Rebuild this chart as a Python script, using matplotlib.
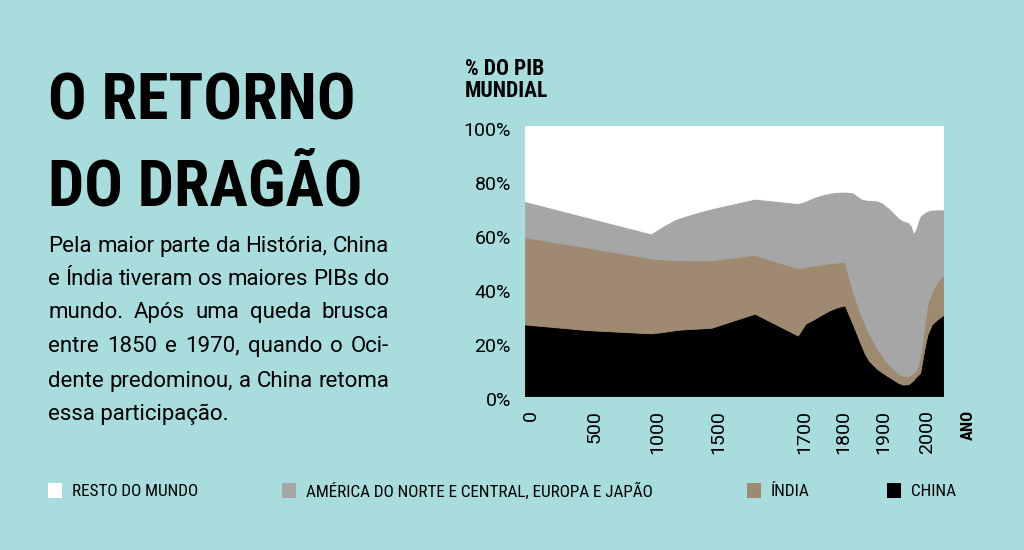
import numpy as np
import matplotlib
matplotlib.use("Agg")
import matplotlib.pyplot as plt
from matplotlib.patches import Rectangle
from matplotlib.transforms import ScaledTranslation

# ---------------- data ----------------
years = [0, 500, 1000, 1100, 1200, 1300, 1400, 1500, 1600, 1700, 1720, 1740,
         1760, 1780, 1800, 1820, 1840, 1860, 1870, 1880, 1900, 1913, 1930,
         1950, 1960, 1973, 1980, 1985, 1990, 1995, 2000, 2003, 2006, 2010,
         2015, 2020]
china = [26.5, 24.4, 23.2, 23.7, 24.4, 24.8, 25.0, 25.3, 30.5, 22.4, 26.8, 28.3,
         30.0, 31.6, 32.8, 33.6, 26.5, 19.0, 15.5, 13.0, 10.0, 8.5, 6.8,
         4.8, 4.2, 4.4, 5.3, 6.0, 7.0, 7.8, 8.6, 16.0, 22.5, 26.5,
         28.5, 30.0]
india = [32.3, 30.6, 27.8, 26.9, 26.0, 25.5, 25.2, 25.0, 21.8, 24.9, 21.0, 20.0,
         18.7, 17.5, 16.6, 16.1, 12.0, 11.0, 11.0, 10.0, 7.5, 6.0, 4.2,
         3.4, 3.3, 3.1, 2.7, 2.6, 2.5, 3.7, 6.4, 8.0, 11.5, 12.0,
         14.0, 14.8]
west = [13.4, 11.2, 9.2, 12.4, 15.1, 16.7, 18.1, 19.2, 20.8, 24.1, 24.5, 25.3,
        25.8, 26.1, 26.2, 26.0, 36.9, 43.2, 46.3, 49.6, 54.9, 57.0, 58.3,
        57.8, 57.5, 56.8, 55.0, 51.9, 52.8, 53.5, 51.8, 43.8, 34.6, 30.5,
        26.6, 24.3]
rest = [100 - c - i - w for c, i, w in zip(china, india, west)]

series_labels = ["CHINA", "ÍNDIA", "AMÉRICA DO NORTE E CENTRAL, EUROPA E JAPÃO",
                 "RESTO DO MUNDO"]
series_colors = ["#000000", "#9E8A70", "#A6A6A6", "#FFFFFF"]

xtick_years = [0, 500, 1000, 1500, 1700, 1800, 1900, 2000]
ytick_vals = [0, 20, 40, 60, 80, 100]
ytick_labels = ["0%", "20%", "40%", "60%", "80%", "100%"]

title_lines = ["O RETORNO", "DO DRAGÃO"]
body_lines = ["Pela maior parte da História, China",
              "e Índia tiveram os maiores PIBs do",
              "mundo. Após uma queda brusca",
              "entre 1850 e 1970, quando o Oci-",
              "dente predominou, a China retoma",
              "essa participação."]

# ---------------- style ----------------
BG = "#A8DCDD"
W, H = 1024, 550
COND = ["Roboto Condensed", "DejaVu Sans"]
BODY = ["Roboto", "DejaVu Sans"]

fig = plt.figure(figsize=(W / 100, H / 100), dpi=100, facecolor=BG)


def fx(px):
    return px / W


def fy(py):
    return 1 - py / H


L, R, T, B = 524.7, 943.4, 126, 396
ax = fig.add_axes([fx(L), fy(B), (R - L) / W, (B - T) / H])
ax.set_facecolor("white")

# piecewise x scale (non-linear time axis of the original)
YA = [0, 1000, 1500, 1700, 1800, 1900, 2000, 2020]
PA = [0, 126.1, 187, 273.1, 312, 352.5, 395.5, 418.7]
fwd = lambda x: np.interp(x, YA, PA)
inv = lambda p: np.interp(p, PA, YA)
ax.set_xscale("function", functions=(fwd, inv))

polys = ax.stackplot(years, china, india, west, rest, colors=series_colors,
                     linewidth=0.6)
for p, c in zip(polys, series_colors):
    p.set_edgecolor(c)

ax.set_xlim(0, 2020)
ax.set_ylim(0, 100)
for s in ax.spines.values():
    s.set_visible(False)

ax.set_xticks(xtick_years)
ax.set_xticklabels([str(y) for y in xtick_years], rotation=90,
                   family=BODY, fontsize=14)
ax.set_yticks(ytick_vals)
ax.set_yticklabels(ytick_labels, family=BODY, fontsize=14)
ax.tick_params(axis="x", length=0, pad=10)
ax.tick_params(axis="y", length=0, pad=10)
off = ScaledTranslation(6.5 / 100, 0, fig.dpi_scale_trans)
for lab in ax.get_xticklabels():
    lab.set_transform(lab.get_transform() + off)
offy = ScaledTranslation(0, -3 / 100, fig.dpi_scale_trans)
for lab in ax.get_yticklabels():
    lab.set_transform(lab.get_transform() + offy)

fig.text(fx(968), fy(410), "ANO", rotation=90, ha="center", va="top",
         family=COND, weight="bold", fontsize=12)
fig.text(fx(465), fy(58), "% DO PIB\nMUNDIAL", ha="left", va="top",
         family=COND, weight="bold", fontsize=15.5, linespacing=1.0)

renderer = fig.canvas.get_renderer()

# ---------------- title ----------------
t1 = fig.text(fx(48), fy(120), title_lines[0], ha="left", va="baseline",
              family=COND, weight="bold", fontsize=60)
w1 = t1.get_window_extent(renderer).width
size = 60 * 308 / w1
t1.set_fontsize(size)
fig.text(fx(48), fy(205), title_lines[1], ha="left", va="baseline",
         family=COND, weight="bold", fontsize=size)

# ---------------- justified body text ----------------
left, right = 48.3, 389
baselines = [251.7, 285, 318, 351.7, 386.7, 420]
bsize = 16
for i, (line, by) in enumerate(zip(body_lines, baselines)):
    words = line.split(" ")
    if i == len(body_lines) - 1:
        fig.text(fx(left), fy(by), line, ha="left", va="baseline",
                 family=BODY, fontsize=bsize)
        continue
    arts = [fig.text(0, 0, w, ha="left", va="baseline", family=BODY,
                     fontsize=bsize) for w in words]
    widths = [a.get_window_extent(renderer).width for a in arts]
    gap = (right - left - sum(widths)) / (len(words) - 1)
    x = left
    for a, wd in zip(arts, widths):
        a.set_position((fx(x), fy(by)))
        x += wd + gap

# ---------------- legend ----------------
leg_order = [3, 2, 1, 0]
sq_x = [48, 282, 747, 887]
for k, sx in zip(leg_order, sq_x):
    fig.add_artist(Rectangle((fx(sx), fy(498)), 14 / W, 15 / H,
                             transform=fig.transFigure,
                             facecolor=series_colors[k], edgecolor="none"))
    fig.text(fx(sx + 24), fy(491), series_labels[k], ha="left", va="center",
             family=COND, fontsize=12.3)

fig.savefig("out.png", dpi=100, facecolor=BG)
